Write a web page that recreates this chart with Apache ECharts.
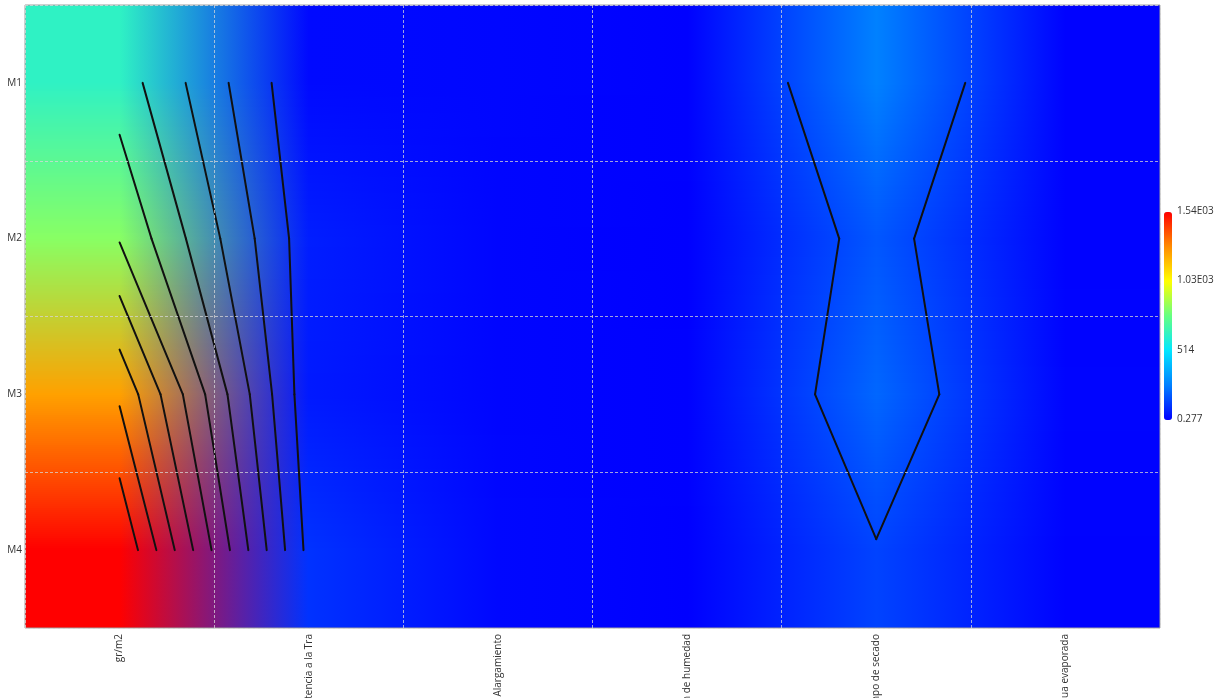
<!DOCTYPE html>
<html><head><meta charset="utf-8">
<script src="https://cdn.jsdelivr.net/npm/echarts@6.0.0/dist/echarts.min.js"></script>
<style>html,body{margin:0;padding:0;background:#fff;}#c{width:1218px;height:698px;}</style>
</head><body><div id="c"></div>
<script>
// ---- data ----
const categories = ['gr/m2', 'Resistencia a la Tra', 'Alargamiento', 'Absorción de humedad', 'Tiempo de secado', 'Agua evaporada'];
const rowLabels = ['M1', 'M2', 'M3', 'M4'];
const valuesM1 = [635, 19, 12, 3, 260, 5];
const valuesM2 = [830, 60, 10, 0.277, 174, 4];
const valuesM3 = [1237, 50, 10, 2, 206, 8];
const valuesM4 = [1540, 100, 15, 1, 135, 5];
const contourLevels = [140, 280, 420, 560, 700, 840, 980, 1120, 1260, 1400];
const scaleMin = 0.277, scaleMax = 1540;
const scaleLabels = ['1.54E03', '1.03E03', '514', '0.277'];
const palette = ['#0000ff', '#0080ff', '#00e6ff', '#64ff82', '#ffff00', '#ff8c00', '#ff0000'];

// ---- derived ----
const grid = [valuesM1, valuesM2, valuesM3, valuesM4];
const nC = categories.length, nR = rowLabels.length;
function hexRgb(h) { return [parseInt(h.substr(1, 2), 16), parseInt(h.substr(3, 2), 16), parseInt(h.substr(5, 2), 16)]; }
const palRgb = palette.map(hexRgb);
function colorOf(v) {
  let t = (v - scaleMin) / (scaleMax - scaleMin);
  t = Math.max(0, Math.min(1, t));
  const s = t * (palRgb.length - 1);
  const i = Math.min(Math.floor(s), palRgb.length - 2);
  const f = s - i;
  return palRgb[i].map((a, k) => a + (palRgb[i + 1][k] - a) * f);
}
const cellRgb = grid.map(row => row.map(colorOf));
function mix(a, b, f) { return a.map((x, k) => x + (b[k] - x) * f); }
function colorAt(c, r) {
  c = Math.max(0, Math.min(nC - 1, c));
  r = Math.max(0, Math.min(nR - 1, r));
  const c0 = Math.floor(c), c1 = Math.min(c0 + 1, nC - 1), fc = c - c0;
  const r0 = Math.floor(r), r1 = Math.min(r0 + 1, nR - 1), fr = r - r0;
  const top = mix(cellRgb[r0][c0], cellRgb[r0][c1], fc);
  const bot = mix(cellRgb[r1][c0], cellRgb[r1][c1], fc);
  const m = mix(top, bot, fr);
  return 'rgb(' + m.map(x => Math.round(x)).join(',') + ')';
}

const heatData = [];
grid.forEach((row, r) => row.forEach((v, c) => heatData.push([c, r, v])));
const squareData = [];
for (let j = 0; j < nR - 1; j++) for (let i = 0; i < nC - 1; i++) squareData.push([i, j]);

function renderHeat(params, api) {
  const col = api.value(0), row = api.value(1);
  const ctr = api.coord([col, row]);
  const sz = api.size([1, 1]);
  const w = sz[0], h = sz[1];
  const other = api.coord([col, row < nR - 1 ? row + 1 : row - 1]);
  const dir = (row < nR - 1 ? 1 : -1) * Math.sign(other[1] - ctr[1]);
  const xa = Math.round(ctr[0] - w / 2), xb = Math.round(ctr[0] + w / 2);
  const ya = Math.round(ctr[1] - h / 2), yb = Math.round(ctr[1] + h / 2);
  const step = 2;
  const children = [];
  for (let y = ya; y < yb; y += step) {
    const hh = Math.min(step, yb - y);
    const frac = (y + hh / 2 - ctr[1]) / h;
    const r = row + dir * frac;
    const fl = (xa - (ctr[0] - w / 2)) / w, fr = (xb - (ctr[0] + w / 2)) / w;
    children.push({
      type: 'rect',
      shape: { x: xa, y: y, width: xb - xa, height: hh },
      style: {
        fill: {
          type: 'linear', x: 0, y: 0, x2: 1, y2: 0,
          colorStops: [
            { offset: 0, color: colorAt(col - 0.5 + fl, r) },
            { offset: 0.5, color: colorAt(col, r) },
            { offset: 1, color: colorAt(col + 0.5 + fr, r) }
          ]
        }
      },
      silent: true
    });
  }
  return { type: 'group', children: children };
}

function renderContour(params, api) {
  const i = api.value(0), j = api.value(1);
  const corners = [[i, j], [i + 1, j], [i + 1, j + 1], [i, j + 1]];
  const pts = corners.map(c => api.coord(c));
  const vals = corners.map(c => grid[c[1]][c[0]]);
  const edges = [[0, 1], [1, 2], [3, 2], [0, 3]];
  const children = [];
  const seg = (a, b) => children.push({
    type: 'line', shape: { x1: a[0], y1: a[1], x2: b[0], y2: b[1] },
    style: { stroke: '#111', lineWidth: 2, lineCap: 'round' }, silent: true
  });
  contourLevels.forEach(L => {
    const cr = [];
    edges.forEach((e, ei) => {
      const va = vals[e[0]], vb = vals[e[1]];
      if ((va - L) * (vb - L) < 0) {
        const t = (L - va) / (vb - va);
        const pa = pts[e[0]], pb = pts[e[1]];
        cr[ei] = [pa[0] + (pb[0] - pa[0]) * t, pa[1] + (pb[1] - pa[1]) * t];
      }
    });
    const found = cr.map((p, k) => p ? k : -1).filter(k => k >= 0);
    if (found.length === 2) {
      seg(cr[found[0]], cr[found[1]]);
    } else if (found.length === 4) {
      const center = (vals[0] + vals[1] + vals[2] + vals[3]) / 4;
      if ((center > L) === (vals[0] > L)) { seg(cr[0], cr[1]); seg(cr[2], cr[3]); }
      else { seg(cr[0], cr[3]); seg(cr[1], cr[2]); }
    }
  });
  return { type: 'group', children: children };
}

const splitStyle = { color: 'rgba(215,215,215,0.75)', type: [3, 2], width: 1 };
const FONT = 'Open Sans';
const legendTop = 212, legendH = 208;

const chart = echarts.init(document.getElementById('c'));
chart.setOption({
  animation: false,
  grid: {
    left: 25, right: 58, top: 5, bottom: 70, containLabel: false, outerBoundsMode: 'none',
    show: true, z: 10, borderColor: '#a0a0a0', borderWidth: 1, backgroundColor: 'transparent'
  },
  xAxis: {
    type: 'category', data: categories, z: 10,
    axisTick: { show: false }, axisLine: { show: false },
    axisLabel: { rotate: 90, fontSize: 10, color: '#333', margin: 6, fontFamily: FONT },
    splitLine: { show: true, lineStyle: splitStyle }
  },
  yAxis: {
    type: 'category', data: rowLabels, inverse: true, z: 10,
    axisTick: { show: false }, axisLine: { show: false },
    axisLabel: { fontSize: 10, color: '#333', margin: 3, fontFamily: FONT },
    splitLine: { show: true, lineStyle: splitStyle }
  },
  visualMap: {
    type: 'continuous', min: scaleMin, max: scaleMax, dimension: 2, seriesIndex: 0,
    left: 1164, top: legendTop, itemWidth: 8, itemHeight: legendH, padding: 0,
    calculable: false, text: null, inRange: { color: palette }
  },
  graphic: scaleLabels.map((t, k) => ({
    type: 'text', left: 1177, top: legendTop + k * legendH / 3 - 6,
    style: { text: t, fontSize: 10, fill: '#333', fontFamily: FONT }
  })),
  series: [
    { type: 'custom', name: 'heat', renderItem: renderHeat, data: heatData, encode: { x: 0, y: 1 }, z: 1, silent: true, clip: true },
    { type: 'custom', name: 'contour', renderItem: renderContour, data: squareData, encode: { x: 0, y: 1 }, z: 3, silent: true }
  ]
});
</script></body></html>
